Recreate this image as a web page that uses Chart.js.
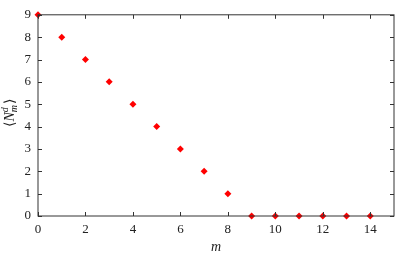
<!DOCTYPE html>
<html>
<head>
<meta charset="utf-8">
<script src="https://cdn.jsdelivr.net/npm/chart.js@4"></script>
<style>
  html, body { margin: 0; padding: 0; background: #fff; }
  #wrap { width: 416px; height: 256px; }
</style>
</head>
<body>
<div id="wrap"><canvas id="chart" width="416" height="256"></canvas></div>
<script>
const mValues = [0, 1, 2, 3, 4, 5, 6, 7, 8, 9, 10, 11, 12, 13, 14];
const nValues = [9, 8, 7, 6, 5, 4, 3, 2, 1, 0, 0, 0, 0, 0, 0];
const xTicks = [0, 2, 4, 6, 8, 10, 12, 14];
const yTicks = [0, 1, 2, 3, 4, 5, 6, 7, 8, 9];

const serif = '"Liberation Serif", "DejaVu Serif", serif';

// gnuplot style: ticks pointing inward, mirrored on top and right
const inwardTicks = {
    id: 'inwardTicks',
    afterDatasetsDraw(chart) {
        const ctx = chart.ctx;
        const a = chart.chartArea;
        const xs = chart.scales.x;
        const ys = chart.scales.y;
        const len = 4;
        ctx.save();
        ctx.strokeStyle = '#333';
        ctx.lineWidth = 1;
        ctx.beginPath();
        xTicks.forEach(v => {
            const px = Math.round(xs.getPixelForValue(v)) + 0.5;
            ctx.moveTo(px, a.bottom); ctx.lineTo(px, a.bottom - len);
            ctx.moveTo(px, a.top); ctx.lineTo(px, a.top + len);
        });
        yTicks.forEach(v => {
            const py = Math.round(ys.getPixelForValue(v)) + 0.5;
            ctx.moveTo(a.left, py); ctx.lineTo(a.left + len, py);
            ctx.moveTo(a.right, py); ctx.lineTo(a.right - len, py);
        });
        ctx.stroke();
        ctx.strokeRect(a.left, a.top, a.right - a.left, a.bottom - a.top);

        // y title <N_m^d>
        ctx.translate(10, 111);
        ctx.rotate(-Math.PI / 2);
        ctx.fillStyle = '#222';
        ctx.textBaseline = 'middle';
        ctx.font = '14px ' + serif;
        let x = -16;
        ctx.fillText('\u27E8', x, 0); x += ctx.measureText('\u27E8').width;
        ctx.font = 'italic 14px ' + serif;
        ctx.fillText('N', x, 0); x += ctx.measureText('N').width;
        ctx.font = 'italic 10px ' + serif;
        ctx.fillText('d', x, -5);
        ctx.fillText('m', x, 4);
        x += ctx.measureText('m').width + 1;
        ctx.font = '14px ' + serif;
        ctx.fillText('\u27E9', x, 0);
        ctx.restore();
    }
};

new Chart(document.getElementById('chart').getContext('2d'), {
    type: 'scatter',
    data: {
        datasets: [{
            data: mValues.map((m, i) => ({ x: m, y: nValues[i] })),
            pointStyle: 'rectRot',
            pointRadius: 3.5,
            backgroundColor: '#ff0000',
            borderColor: '#ff0000',
            borderWidth: 0,
            clip: false
        }]
    },
    options: {
        responsive: false,
        animation: false,
        layout: { padding: { top: 14, right: 22, left: 0, bottom: 0 } },
        plugins: { legend: { display: false }, tooltip: { enabled: false } },
        scales: {
            x: {
                type: 'linear',
                min: 0,
                max: 15,
                afterBuildTicks: s => { s.ticks = xTicks.map(v => ({ value: v })); },
                afterFit: s => { s.height = 40; },
                grid: { display: false, drawTicks: false },
                border: { display: false },
                ticks: { color: '#222', padding: 6, maxRotation: 0, font: { family: serif, size: 13 } },
                title: { display: true, text: 'm', color: '#222', padding: { top: 2, bottom: 0 }, font: { family: serif, size: 14, style: 'italic' } }
            },
            y: {
                min: 0,
                max: 9,
                afterBuildTicks: s => { s.ticks = yTicks.map(v => ({ value: v })); },
                afterFit: s => { s.width = 38; },
                grid: { display: false, drawTicks: false },
                border: { display: false },
                ticks: { color: '#222', padding: 7, font: { family: serif, size: 13 } }
            }
        }
    },
    plugins: [inwardTicks]
});
</script>
</body>
</html>
